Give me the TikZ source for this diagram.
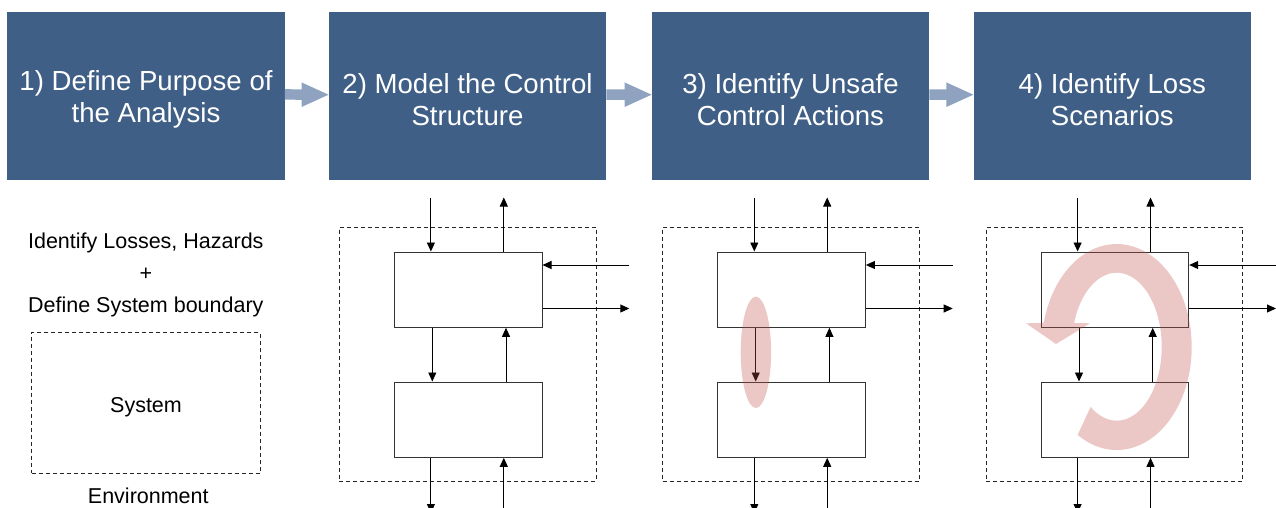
\documentclass[tikz,border=0pt]{standalone}
\usepackage{fontspec}
\setmainfont{Liberation Sans}
\usetikzlibrary{calc,arrows.meta}
\definecolor{stepblue}{HTML}{3F5F86}
\definecolor{flowblue}{HTML}{8FA3C1}
\definecolor{hilite}{HTML}{C0504D}

\begin{document}
\begin{tikzpicture}[x=1pt,y=-1pt,
  stepbox/.style={fill=stepblue, minimum width=277.5pt, minimum height=167.5pt, inner sep=0pt},
  steptext/.style={text=white, inner sep=0pt, align=center, font=\fontsize{27.6}{32}\selectfont},
  flow/.style={fill=flowblue},
  ctrl/.style={draw=black!80, line width=1pt, minimum width=147.7pt, minimum height=75.3pt, inner sep=0pt},
  boundary/.style={draw=black!85, line width=0.9pt, dash pattern=on 4pt off 3pt, inner sep=0pt},
  sig/.style={draw=black, line width=0.9pt, -{Triangle[length=9pt,width=8pt]}},
  plain/.style={font=\fontsize{21.5}{32}\selectfont, anchor=base, inner sep=0pt},
  hl/.style={fill=hilite, fill opacity=0.32}
]
\useasboundingbox (0,0) rectangle (1276,508);

% the four steps
\node[stepbox] (s1) at (146,95.8)    {};
\node[stepbox] (s2) at (467.5,96.2)  {};
\node[stepbox] (s3) at (790.5,96.2)  {};
\node[stepbox] (s4) at (1112.3,96.2) {};
\node[steptext] (t1) at ($(s1)+(0,3.5)$) {1) Define Purpose of\\the Analysis};
\node[steptext] (t2) at ($(s2)+(0,3.5)$) {2) Model the Control\\Structure};
\node[steptext] (t3) at ($(s3)+(0,3.5)$) {3) Identify Unsafe\\Control Actions};
\node[steptext] (t4) at ($(s4)+(0,3.5)$) {4) Identify Loss\\Scenarios};

% block arrows between the steps
\foreach \a/\b in {s1/s2,s2/s3,s3/s4}{
  \fill[flow] ($(\a.east)+(0,-6.7)$) -- ($(\b.west)+(-27,-6.7)$) -- ($(\b.west)+(-27,-13.8)$)
    -- ($(\b.west)+(0,-1.5)$) -- ($(\b.west)+(-27,10.8)$) -- ($(\b.west)+(-27,3.7)$)
    -- ($(\a.east)+(0,3.7)$) -- cycle;
}

% step 1: losses, hazards and the system boundary
\node[plain] (l1) at (145.8,248) {Identify Losses, Hazards};
\node[plain] (l2) at (145.8,280) {+};
\node[plain] (l3) at (145.8,312) {Define System boundary};
\node[boundary, minimum width=228.3pt, minimum height=141pt] (sysbox) at (145.85,402.8) {};
\node[plain] (systxt) at (146,412) {System};
\node[plain] (envtxt) at (148.3,503) {Environment};

% steps 2-4: control structure with controller and controlled process
\foreach \p/\X in {2/394.3,3/717.7,4/1041}{
  \node[boundary, minimum width=256.7pt, minimum height=254.2pt] (env\p) at (\X+73.35,354.4) {};
  \node[ctrl] (u\p) at (\X+73.85,289.65) {};
  \node[ctrl] (d\p) at (\X+73.85,419.65) {};
  \coordinate (ti\p) at (\X+36.6,197.5);
  \coordinate (to\p) at (\X+109.5,197.5);
  \coordinate (ri\p) at (\X+235,265);
  \coordinate (ro\p) at (\X+235,308.5);
  \coordinate (md\p) at (\X+38,0);
  \coordinate (mu\p) at (\X+111.7,0);
  \coordinate (bo\p) at (\X+36.6,513);
  \coordinate (bi\p) at (\X+109.5,513);
  \draw[sig] (ti\p) -- (ti\p |- u\p.north);
  \draw[sig] (to\p |- u\p.north) -- (to\p);
  \draw[sig] (ri\p) -- (ri\p -| u\p.east);
  \draw[sig] (ro\p -| u\p.east) -- (ro\p);
  \draw[sig] (md\p |- u\p.south) -- (md\p |- d\p.north);
  \draw[sig] (mu\p |- d\p.north) -- (mu\p |- u\p.south);
  \draw[sig] (bo\p |- d\p.south) -- (bo\p);
  \draw[sig] (bi\p) -- (bi\p |- d\p.south);
}

% unsafe control action highlight
\fill[hl] (755.9,352.3) ellipse [x radius=15.2, y radius=55.7];

% loss scenario loop
\fill[hl] ($(1116.7,347)+(121.4:75 and 103)$)
  arc[start angle=121.4, end angle=-166.5, x radius=75, y radius=103]
  -- (1026,323.3) -- (1056,344) -- (1090,323.3)
  -- ($(1116.7,346.7)+(-161.3:45 and 74)$)
  arc[start angle=-161.3, end angle=125.5, x radius=45, y radius=74] -- cycle;
\end{tikzpicture}
\end{document}
